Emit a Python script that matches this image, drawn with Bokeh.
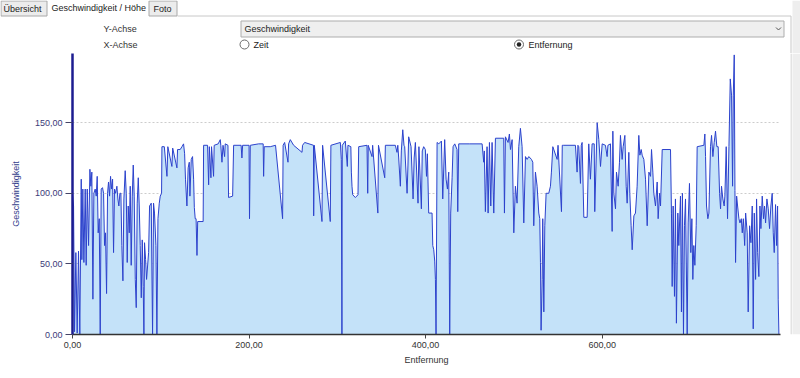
from bokeh.plotting import figure
from bokeh.models import FixedTicker, CustomJSTickFormatter, Range1d, ColumnDataSource
from bokeh.layouts import column, row
from bokeh.core.properties import value
from bokeh.embed import file_html
from bokeh.resources import INLINE

# ---------------- data ----------------
entfernung = [
    0, 1.2, 2.3, 3.8, 5.3, 6.8, 8.3, 9.9, 10.6, 11.7, 12.9, 14.4, 15.5, 16.7, 18.2, 19.7,
    20.8, 21.9, 23.1, 24.2, 25.7, 26.9, 28, 29.1, 30.3, 31.4, 32.5, 34, 35.2, 36.3, 37.4,
    38.6, 39.7, 40.8, 42, 43.1, 44.2, 45.4, 46.5, 47.6, 48.8, 50.3, 51.4, 52.5, 53.7, 54.8,
    55.9, 57.1, 58.2, 59.7, 60.9, 62, 63.1, 64.3, 65.4, 66.5, 67.7, 68.8, 69.9, 71.1, 72.2,
    73.3, 74.5, 75.6, 76.7, 77.9, 79, 80.1, 80.9, 81.6, 82.8, 83.9, 86.2, 87.3, 89.2, 90.7,
    91.8, 92.9, 94.5, 95.6, 96.8, 98.3, 99.4, 100.9,
    101.3, 104, 107, 108, 112.6, 113.5, 118.3, 119, 122, 124, 125.8, 127, 128, 129.6, 131,
    132.3, 133, 134.5, 136, 137.2, 138, 139, 140, 141, 141.8, 148, 148.5, 153, 154.2, 155,
    156.8, 157.5, 159.8, 160.5, 165, 167.4, 168, 169.3, 170.5, 172.3, 173, 176.1, 176.8,
    181.4, 182.5, 191, 191.9, 192.7, 200, 200.5, 201.4,
    210.8, 216, 216.5, 217.2, 224, 230, 238, 238.6, 240.3, 244.1, 244.8, 246.7, 250.5, 260,
    260.6, 263, 273, 273.2, 273.9, 282.6, 283.3, 292, 292.7, 303.4, 304.5, 305.2, 305.6,
    309, 311.3, 312, 315.3, 315.9, 316.6, 317.4, 320.4, 322, 323.4, 324.2, 333.6, 334.4,
    335, 339.3, 340, 345.9, 346.6, 353.7, 354.4, 365.7, 367.6, 368.5, 369.5, 371.4, 372.5,
    374.1, 375.5, 376.3, 379, 380, 380.8, 383.5, 385.8, 387, 388.4, 391.4, 392.4, 395.2,
    396.2, 397.8, 399.7, 401, 402, 403.5,
    407.3, 408.1, 409.2, 410.3, 411.1, 411.8, 413, 414.9, 417.9, 419.4, 421.6, 423.2, 424.7,
    426.2, 427.3, 428.4, 430, 431.1, 433, 435.6, 436.4, 437.5, 450, 464, 465.8, 466.5,
    467.7, 469.6, 470.8, 472.3, 473.8, 475.3, 477.2, 479.1, 488.5, 489.3, 490.4, 493.4,
    494.9, 496.1, 498, 499.9, 501.7, 503.6, 505.5, 507.4, 509.3, 511.2, 513.1, 515, 516.9,
    519.9, 521.4, 522.5, 524.4, 526.3, 528.2, 529.3, 530.1, 530.8, 532, 532.7, 533.9, 535,
    536.5, 539.5, 541.4, 542.5, 544.1, 549, 550, 553.9, 554.8, 556.5, 569.7, 571.6, 572.5,
    573.5, 575.4, 576.3, 577.3, 579.2, 583, 584.8, 586.7, 588.6, 591, 591.6, 594.3, 596.2,
    598.1, 600, 603.7, 605.6, 606.5, 609.4,
    611.3, 612.1, 613.2, 615.1, 616.2, 618.1, 619.6, 620.7, 622.6, 623.8, 625.7, 627.2,
    628.3, 630.2, 631.3, 632.8, 634, 635.9, 637.7, 639.6, 641.5, 642.7, 644.2, 645.3, 647.2,
    649.1, 651, 652.9, 654.8, 655.9, 657.4, 658.5, 660.4, 662.3, 663.4, 665, 666.1, 668,
    677.4, 678.5, 679.3, 680.4, 681.9, 683, 684.1, 685.7, 686.8, 688.7, 689.8, 690.9, 692.1,
    693.2, 694.4, 696.3, 697.4, 698.9, 700.4, 701.6, 702.7, 703.8, 705, 706.5, 707.6, 715.2,
    716.3, 717.1, 718.2, 719.7, 720.9, 722.7, 723.9, 725.4, 726.9, 728.4, 729.9, 731.4, 733,
    734.1, 735.2, 736.7, 738.2, 739, 740.5, 742, 743.6, 745.1, 746.6, 747.7, 748.5, 749.6,
    750.4, 751.1, 752.3, 753.4, 754.9, 756.1, 757.6, 758.7, 759.9, 761.4, 762.5, 764.3,
    765.4, 767, 768.5, 770, 771.1, 772.3, 773.8, 774.9, 776.1, 777.5, 778.7, 779.8, 781.3,
    782.8, 783.9, 785.1, 786.6, 788.1, 789.6, 791.1, 792.6, 793.8, 794.9, 796.4, 797.6,
    798.7, 799.4, 800.2,
]

geschwindigkeit = [
    100, 91, 2, 58, 1, 59, 0, 110, 53, 103, 51, 103, 49, 103, 63, 117,
    105, 115, 25, 100, 103, 98, 112, 72, 82, 0, 103, 104, 100, 63, 72,
    29, 100, 108, 98, 112, 103, 110, 58, 103, 100, 105, 96, 91, 100, 100,
    63, 38, 96, 116, 100, 51, 91, 72, 105, 49, 98, 120, 98, 39, 19,
    93, 111, 91, 63, 26, 67, 34, 0, 65, 53, 39, 58, 91, 93, 0,
    93, 86, 63, 0, 82, 93, 98, 100,
    133, 133, 112, 133, 119, 132, 118, 131, 131, 133, 135, 128, 110, 91, 118,
    122, 98, 124, 126, 110, 90, 82, 82, 56, 80, 80, 134, 134, 106, 133,
    111, 133, 112, 134, 135, 138, 134, 122, 134, 126, 135, 134, 97,
    98, 134, 134, 125, 134, 134, 82, 134,
    135, 135, 112, 133, 133, 134, 82, 134, 136, 122, 135, 138, 134, 129,
    134, 136, 134, 84, 134, 80, 134, 80, 134, 136, 124, 0, 134,
    137, 119, 134, 133, 115, 105, 99, 97, 98, 99, 133, 134, 100,
    134, 126, 134, 86, 134, 111, 134, 134, 129, 134, 125, 105, 130,
    145, 134, 133, 100, 120, 140, 133, 96, 125, 136, 93, 133, 89,
    130, 133, 131, 112, 128, 86,
    86, 63, 60, 52, 39, 0, 136, 135, 137, 96, 138, 110, 103,
    115, 0, 86, 111, 133, 135, 131, 87, 135, 135, 135, 122, 130,
    87, 133, 86, 136, 91, 136, 86, 139, 139, 86, 140, 136,
    142, 131, 138, 72, 105, 93, 133, 146, 133, 79, 126, 124, 126,
    124, 122, 77, 115, 105, 86, 82, 51, 3, 39, 82, 16, 77,
    100, 100, 105, 115, 133, 124, 134, 87, 134, 134, 134, 115, 134,
    133, 107, 134, 136, 83, 83, 135, 110, 135, 135, 87, 150, 138,
    119, 135, 134, 126, 134, 135,
    73, 144, 100, 89, 115, 105, 122, 141, 124, 133, 141, 105,
    93, 129, 100, 77, 60, 84, 86, 105, 141, 127, 131, 127, 124,
    110, 77, 115, 112, 131, 115, 100, 91, 108, 82, 100, 91, 131,
    131, 86, 34, 91, 27, 96, 8, 86, 63, 98, 16, 100, 0,
    77, 96, 0, 79, 107, 58, 82, 39, 63, 49, 77, 133, 134,
    142, 126, 91, 82, 86, 133, 141, 126, 136, 144, 133, 133, 100,
    89, 105, 96, 91, 98, 133, 82, 133, 181, 169, 105, 169, 198,
    102, 51, 98, 91, 82, 79, 82, 72, 82, 63, 86, 72,
    16, 77, 65, 91, 4, 86, 39, 96, 58, 41, 91, 75, 98,
    82, 91, 79, 96, 89, 75, 91, 100, 72, 58, 92, 63,
    91, 25, 0,
]

x_ticks = [0, 200, 400, 600]
y_ticks = [0, 50, 100, 150]
y_grid = [50, 100, 150]
x_max = 802
y_max = 199

FONT = "Liberation Sans"
PANEL_LINE = "#c8c8c8"
SLIVER = "#eeeeee"


def pixel_fig(w, h):
    """A helper canvas in pixel coordinates (y grows downward) for the UI chrome."""
    f = figure(width=w, height=h, x_range=Range1d(0, w), y_range=Range1d(h, 0),
               x_axis_type=None, y_axis_type=None, output_backend="svg",
               toolbar_location=None, title=None, min_border=0)
    f.outline_line_color = None
    f.grid.visible = False
    f.background_fill_color = "white"
    f.border_fill_color = "white"
    return f


def ui_text(f, x, y, t, color="#222222", size="9px", align="left"):
    f.text(x=[x], y=[y], text=[t], text_font=value(FONT), text_font_size=value(size),
           text_color=color, text_baseline="middle", text_align=align)


# ---------------- header: tabs, selector, radio buttons ----------------
hdr = pixel_fig(800, 53)
hdr.quad(left=[792], right=[800], top=[0], bottom=[53], fill_color=SLIVER, line_color=None)
hdr.segment(x0=[177, 790.5], y0=[15.5, 15.5], x1=[790.5, 790.5], y1=[15.5, 53],
            line_color=PANEL_LINE, line_width=1)
hdr.quad(left=[0.5, 148.5], right=[46.5, 176.5], top=[0.5, 0.5], bottom=[15.5, 15.5],
         fill_color="#ececec", line_color="#a8a8a8", line_width=1)
ui_text(hdr, 3, 8, "Übersicht")
ui_text(hdr, 51, 7.5, "Geschwindigkeit / Höhe")
ui_text(hdr, 153, 8, "Foto")
ui_text(hdr, 103, 28, "Y-Achse", color="#333333")
ui_text(hdr, 103, 44, "X-Achse", color="#333333")
hdr.quad(left=[240.5], right=[783.5], top=[20.5], bottom=[36.5],
         fill_color="#efefef", line_color="#adadad", line_width=1)
ui_text(hdr, 244, 28.5, "Geschwindigkeit")
hdr.line(x=[775.5, 778, 780.5], y=[27, 29.5, 27], line_color="#555555", line_width=1)
hdr.scatter(x=[244, 518.5], y=[44, 44], marker="circle", size=9,
            fill_color="white", line_color="#6a6a6a", line_width=1)
hdr.scatter(x=[518.5], y=[44], marker="circle", size=4.5,
            fill_color="#222222", line_color=None)
ui_text(hdr, 253, 44.5, "Zeit")
ui_text(hdr, 528, 44.5, "Entfernung")

# ---------------- chart ----------------
p = figure(width=790, height=320, x_range=Range1d(0, x_max), y_range=Range1d(0, y_max),
           output_backend="svg", toolbar_location=None, title=None,
           min_border_left=72, min_border_right=10, min_border_top=0, min_border_bottom=39)
p.outline_line_color = None
p.background_fill_color = "white"
p.border_fill_color = "white"

src = ColumnDataSource(dict(x=entfernung, y=geschwindigkeit))
p.varea(x="x", y1=0, y2="y", source=src, fill_color="#c4e2f9", fill_alpha=1.0)
p.line(x="x", y="y", source=src, line_color="#2c42cc", line_width=1)

fmt = CustomJSTickFormatter(code="return tick.toFixed(2).replace('.', ',');")

xa = p.xaxis[0]
xa.ticker = FixedTicker(ticks=x_ticks)
xa.formatter = fmt
xa.minor_tick_line_color = None
xa.major_tick_in = 0
xa.major_tick_out = 4
xa.major_tick_line_color = "#444444"
xa.axis_line_color = "#333333"
xa.axis_line_width = 1.5
xa.major_label_standoff = 3
xa.major_label_text_font = FONT
xa.major_label_text_font_size = "9px"
xa.major_label_text_color = "#333333"
xa.axis_label = "Entfernung"
xa.axis_label_text_font = FONT
xa.axis_label_text_font_size = "9px"
xa.axis_label_text_font_style = "normal"
xa.axis_label_text_color = "#333333"
xa.axis_label_standoff = 4

ya = p.yaxis[0]
ya.ticker = FixedTicker(ticks=y_ticks)
ya.formatter = fmt
ya.minor_tick_line_color = None
ya.major_tick_in = 0
ya.major_tick_out = 7
ya.major_tick_line_color = "#444466"
ya.axis_line_color = "#1c1c90"
ya.axis_line_width = 2.5
ya.major_label_standoff = 3
ya.major_label_text_font = FONT
ya.major_label_text_font_size = "9px"
ya.major_label_text_color = "#3a3a78"
ya.axis_label = "Geschwindigkeit"
ya.axis_label_text_font = FONT
ya.axis_label_text_font_size = "9px"
ya.axis_label_text_font_style = "normal"
ya.axis_label_text_color = "#34408c"
ya.axis_label_standoff = 11

p.xgrid.visible = False
p.ygrid.ticker = FixedTicker(ticks=y_grid)
p.ygrid.grid_line_color = "#cccccc"
p.ygrid.grid_line_dash = "2 2"
p.ygrid.grid_line_width = 1

# right edge of the panel
side = pixel_fig(10, 320)
side.quad(left=[2], right=[10], top=[0], bottom=[320], fill_color=SLIVER, line_color=None)
side.segment(x0=[0.5], y0=[0], x1=[0.5], y1=[320], line_color=PANEL_LINE, line_width=1)

# bottom edge of the panel
foot = pixel_fig(800, 5)
foot.quad(left=[792], right=[800], top=[0], bottom=[5], fill_color=SLIVER, line_color=None)
foot.segment(x0=[0], y0=[0.5], x1=[790.5], y1=[0.5], line_color=PANEL_LINE, line_width=1)
foot.segment(x0=[790.5], y0=[0], x1=[790.5], y1=[0.5], line_color=PANEL_LINE, line_width=1)

layout = column(hdr, row(p, side), foot)
open("out.html", "w").write(file_html(layout, INLINE))
